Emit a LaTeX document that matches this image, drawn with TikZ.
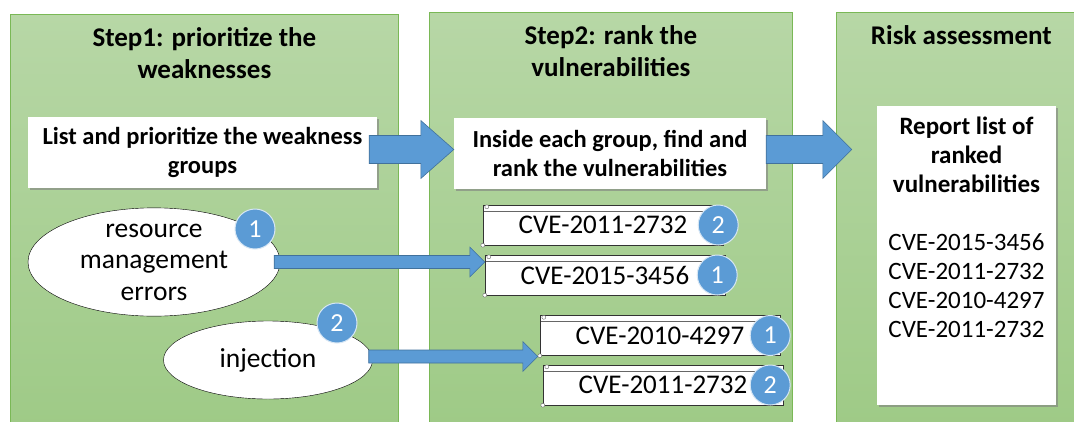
\documentclass[tikz,border=0pt]{standalone}
\usepackage{fontspec}
\setmainfont{Carlito}
\usepackage{tikz}
\usetikzlibrary{positioning,shapes.geometric,shadows,calc}
\usepackage{xcolor}

\definecolor{paneltop}{RGB}{183,215,166}
\definecolor{panelbottom}{RGB}{158,202,134}
\definecolor{panelborder}{RGB}{122,184,86}
\definecolor{blockblue}{RGB}{91,155,213}
\definecolor{blockline}{RGB}{65,113,156}

\newcommand{\blockarrow}[5]{%
  \path[blockarrow] let \p1=(#1), \p2=(#2) in
    (\x1,\y1+#3) -- (\x2-#5,\y1+#3) -- (\x2-#5,\y1+#4) -- (\x2,\y1)
    -- (\x2-#5,\y1-#4) -- (\x2-#5,\y1-#3) -- (\x1,\y1-#3) -- cycle;}

\begin{document}
\begin{tikzpicture}[%
    x=1pt,
    y=-1pt,
    panel/.style={%
      draw=panelborder,
      line width=0.8pt,
      top color=paneltop,
      bottom color=panelbottom,
      minimum height=420pt,
      anchor=north west
    },
    title/.style={%
      align=center,
      inner sep=0pt,
      font=\fontsize{27}{32}\selectfont\bfseries
    },
    whitebox/.style={%
      fill=white,
      align=center,
      drop shadow={shadow xshift=2pt,shadow yshift=-2pt,fill=black!50,opacity=0.6},
      font=\fontsize{24.5}{29}\selectfont\bfseries
    },
    group/.style={%
      ellipse,
      draw,
      fill=white,
      inner sep=0pt,
      align=center,
      font=\fontsize{27.5}{31.5}\selectfont
    },
    scroll/.style={%
      draw=black!80,
      fill=white,
      minimum width=240pt,
      minimum height=40pt,
      inner sep=0pt,
      font=\fontsize{27}{30}\selectfont,
      path picture={\draw[black!60] ([yshift=-6pt]path picture bounding box.north west)
        -- ([yshift=-6pt]path picture bounding box.north east);}
    },
    curl/.style={draw=black!60,fill=white,line width=0.4pt},
    badge/.style={%
      circle,
      fill=blockblue,
      draw=white!75!blockblue,
      line width=1pt,
      minimum size=40pt,
      inner sep=0pt,
      text=white,
      font=\fontsize{26}{26}\selectfont
    },
    blockarrow/.style={fill=blockblue,draw=blockline,line width=0.6pt}
  ]
    \useasboundingbox (0,0) rectangle (1074,421);

    \node[panel, minimum width=388pt] (step1) at (10,14)  {};
    \node[panel, minimum width=363pt] (step2) at (429,12) {};
    \node[panel, minimum width=250pt] (step3) at (836,12) {};

    \node[title, below=13pt of step1.north] (title1) {Step1: prioritize the\\weaknesses};
    \node[title, below=13pt of step2.north] (title2) {Step2: rank the\\vulnerabilities};
    \node[title, below=13pt of step3.north] (title3) {Risk assessment};

    \node[whitebox, minimum width=349pt, minimum height=71pt] (list) at (202.5,152.5)
      {List and prioritize the weakness\\groups};
    \node[whitebox, minimum width=312pt, minimum height=71pt] (rank) at (610,153.5)
      {Inside each group, find and\\rank the vulnerabilities};
    \node[whitebox, minimum width=179pt, minimum height=299pt] (report) at (966.5,255.5) {};
    \node[align=center, inner sep=0pt, font=\fontsize{25}{29}\selectfont,
          below=11pt of report.north] (reportlist)
      {\textbf{Report list of}\\\textbf{ranked}\\\textbf{vulnerabilities}\\[29pt]
       CVE-2015-3456\\CVE-2011-2732\\CVE-2010-4297\\CVE-2011-2732};

    \node[group, minimum width=252pt, minimum height=106pt] (resource) at (154,262)
      {resource\\management\\errors};
    \node[group, minimum width=209pt, minimum height=78pt] (injection) at (268,360)
      {injection};

    \node[scroll] (cveA) at (603,225)   {CVE-2011-2732};
    \node[scroll] (cveB) at (605,275)   {CVE-2015-3456};
    \node[scroll] (cveC) at (660,335.5) {CVE-2010-4297};
    \node[scroll] (cveD) at (663,385)   {CVE-2011-2732};

    \draw[curl] ([shift={(4pt,-2pt)}]cveA.north west) circle (2pt) (cveA.south west) circle (2pt);
    \draw[curl] ([shift={(4pt,-2pt)}]cveB.north west) circle (2pt) (cveB.south west) circle (2pt);
    \draw[curl] ([shift={(4pt,-2pt)}]cveC.north west) circle (2pt) (cveC.south west) circle (2pt);
    \draw[curl] ([shift={(4pt,-2pt)}]cveD.north west) circle (2pt) (cveD.south west) circle (2pt);

    \blockarrow{[shift={(-8pt,3pt)}]list.east}{rank.west}{14pt}{29pt}{33pt}
    \blockarrow{[yshift=4pt]rank.east}{[xshift=-25pt]report.west}{14pt}{29pt}{29pt}
    \blockarrow{[xshift=-6pt]resource.east}{cveB.west}{6.5pt}{15pt}{15pt}
    \blockarrow{[shift={(-4pt,3.5pt)}]injection.east}{[xshift=-2pt]cveC.west}{6.5pt}{15pt}{15pt}

    \node[badge] (rankres) at (255,229) {1};
    \node[badge] (rankinj) at (337,323) {2};
    \node[badge] (rankA) at ([xshift=-5pt]cveA.east)  {2};
    \node[badge] (rankB) at ([xshift=-8pt]cveB.east)  {1};
    \node[badge] (rankC) at ([xshift=-10pt]cveC.east) {1};
    \node[badge] (rankD) at ([xshift=-13pt]cveD.east) {2};
  \end{tikzpicture}
\end{document}
